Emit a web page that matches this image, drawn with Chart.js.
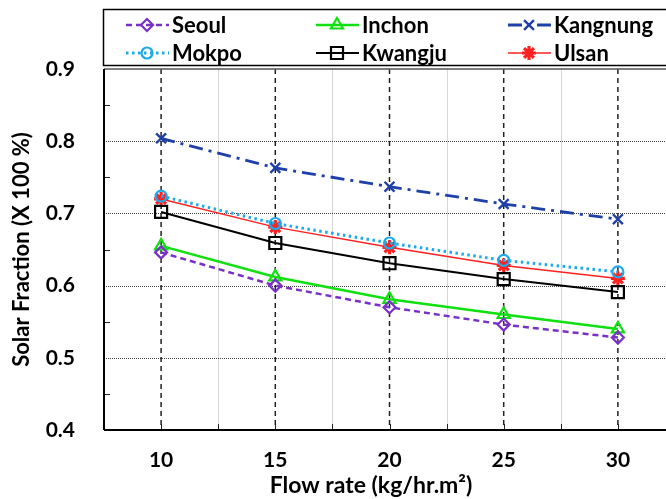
<!DOCTYPE html>
<html>
<head>
<meta charset="utf-8">
<script src="https://cdn.jsdelivr.net/npm/chart.js@4/dist/chart.umd.min.js"></script>
<style>
  html, body { margin: 0; padding: 0; background: #fff; overflow: hidden; }
  #wrap { width: 690px; height: 499px; }
</style>
</head>
<body>
<div id="wrap"><canvas id="chart" width="690" height="499"></canvas></div>
<script>
// values
const flowRates = [10, 15, 20, 25, 30];
const seoul    = [0.646, 0.600, 0.570, 0.546, 0.528];
const inchon   = [0.655, 0.612, 0.581, 0.560, 0.540];
const kangnung = [0.804, 0.763, 0.737, 0.713, 0.692];
const mokpo    = [0.724, 0.686, 0.659, 0.635, 0.619];
const kwangju  = [0.702, 0.659, 0.631, 0.609, 0.591];
const ulsan    = [0.720, 0.681, 0.653, 0.628, 0.610];

const xTicks = [10, 15, 20, 25, 30];
const yTicks = [0.4, 0.5, 0.6, 0.7, 0.8, 0.9];
const xMinor = [12.5, 17.5, 22.5, 27.5, 32.5];
const yMinor = [0.45, 0.55, 0.65, 0.75, 0.85];

const FONT = "Lato, 'Open Sans', sans-serif";

function pts(vals){
  return flowRates.map((x, i) => ({ x, y: vals[i] }));
}

function series(label, vals, color, dash, width, style, radius, pw, legendCol, legendRow){
  return {
    label,
    data: pts(vals),
    borderColor: color,
    borderWidth: width,
    borderDash: dash,
    pointStyle: style,
    pointRadius: radius,
    pointBorderColor: color,
    pointBackgroundColor: "rgba(0,0,0,0)",
    pointBorderWidth: pw,
    tension: 0,
    fill: false,
    legendCol, legendRow
  };
}

const datasets = [
  series("Seoul",    seoul,    "#7a30c8", [6, 4],        2.5, "rectRot",  6,   2.2, 0, 0),
  series("Inchon",   inchon,   "#10e010", [],            2.5, "triangle", 7,   2.2, 1, 0),
  series("Kangnung", kangnung, "#1f40a8", [14, 6, 3, 6], 2.8, "crossRot", 7,   2.4, 2, 0),
  series("Mokpo",    mokpo,    "#1eaae8", [2.5, 3.5],    3,   "circle",   5.5, 2.2, 0, 1),
  series("Kwangju",  kwangju,  "#000000", [],            2,   "rect",     8.5, 2.2, 1, 1),
  series("Ulsan",    ulsan,    "#ff2020", [],            1.5, "star",     7,   3.2, 2, 1)
];

function line(ctx, x1, y1, x2, y2){
  ctx.beginPath();
  ctx.moveTo(x1, y1);
  ctx.lineTo(x2, y2);
  ctx.stroke();
}

const gridPlugin = {
  id: "gridPlugin",
  beforeDatasetsDraw(chart){
    const { ctx, chartArea: a, scales: { x, y } } = chart;
    ctx.save();
    // light minor verticals
    ctx.strokeStyle = "#d6d6d6";
    ctx.lineWidth = 1;
    xMinor.forEach(v => { const px = Math.round(x.getPixelForValue(v)) + 0.5; line(ctx, px, a.top, px, a.bottom); });
    // dotted horizontals
    ctx.strokeStyle = "#444";
    ctx.setLineDash([1, 1]);
    yTicks.slice(1, -1).forEach(v => { const py = Math.round(y.getPixelForValue(v)) + 0.5; line(ctx, a.left, py, a.right, py); });
    // dashed verticals
    ctx.strokeStyle = "#222";
    ctx.lineWidth = 1.5;
    ctx.setLineDash([5, 4]);
    xTicks.forEach(v => { const px = x.getPixelForValue(v); line(ctx, px, a.top, px, a.bottom); });
    ctx.setLineDash([]);
    // small ticks
    ctx.strokeStyle = "#222";
    ctx.lineWidth = 1;
    yMinor.forEach(v => { const py = Math.round(y.getPixelForValue(v)) + 0.5; line(ctx, a.left, py, a.left + 6, py); });
    xMinor.concat(xTicks).forEach(v => { const px = Math.round(x.getPixelForValue(v)) + 0.5; line(ctx, px, a.bottom, px, a.bottom - 6); });
    // frame
    ctx.strokeStyle = "#555";
    ctx.lineWidth = 1.5;
    line(ctx, a.left, a.top, chart.width, a.top);
    ctx.strokeStyle = "#000";
    ctx.lineWidth = 2;
    line(ctx, a.left, a.top, a.left, a.bottom);
    line(ctx, a.left, a.bottom, chart.width, a.bottom);
    ctx.restore();
  },
  afterDraw(chart){
    const { ctx } = chart;
    ctx.save();
    // x axis title
    ctx.fillStyle = "#000";
    ctx.font = "bold 23px " + FONT;
    ctx.textAlign = "center";
    ctx.textBaseline = "middle";
    ctx.fillText("Flow rate (kg/hr.m²)", 371, 486);

    // legend box
    ctx.fillStyle = "#fff";
    ctx.fillRect(103, 9, chart.width, 57);
    ctx.strokeStyle = "#000";
    ctx.lineWidth = 1.5;
    ctx.strokeRect(103.5, 9.5, chart.width, 56);
    const colX = [126, 316, 508];
    const rowY = [25, 53];
    chart.data.datasets.forEach(ds => {
      const x0 = colX[ds.legendCol], yy = rowY[ds.legendRow];
      ctx.strokeStyle = ds.borderColor;
      ctx.lineWidth = ds.borderWidth;
      ctx.setLineDash(ds.borderDash);
      line(ctx, x0, yy, x0 + 43, yy);
      ctx.setLineDash([]);
      ctx.fillStyle = "rgba(0,0,0,0)";
      ctx.lineWidth = ds.pointBorderWidth;
      if (Chart.helpers && Chart.helpers.drawPoint){
        Chart.helpers.drawPoint(ctx, { pointStyle: ds.pointStyle, radius: ds.pointRadius, borderWidth: ds.pointBorderWidth, rotation: 0 }, x0 + 21, yy);
      }
      ctx.fillStyle = "#000";
      ctx.font = "bold 22px " + FONT;
      ctx.textAlign = "left";
      ctx.fillText(ds.label, x0 + 46, yy + 1);
    });
    ctx.restore();
  }
};

new Chart(document.getElementById("chart").getContext("2d"), {
  type: "line",
  data: { datasets },
  options: {
    responsive: false,
    animation: false,
    devicePixelRatio: 1,
    layout: { padding: { top: 69, right: 15, left: 0, bottom: 0 } },
    plugins: { legend: { display: false }, tooltip: { enabled: false } },
    scales: {
      x: {
        type: "linear",
        min: 7.5,
        max: 32.5,
        afterBuildTicks: s => { s.ticks = xTicks.map(v => ({ value: v })); },
        afterFit: s => { s.height = 69; },
        grid: { display: false },
        border: { display: false },
        ticks: { color: "#000", padding: 10, font: { family: FONT, size: 21, weight: "bold" } }
      },
      y: {
        min: 0.4,
        max: 0.9,
        afterBuildTicks: s => { s.ticks = yTicks.map(v => ({ value: v })); },
        afterFit: s => { s.width = 104; },
        grid: { display: false },
        border: { display: false },
        ticks: { color: "#000", padding: 21, callback: v => v.toFixed(1), font: { family: FONT, size: 21, weight: "bold" } },
        title: { display: true, text: "Solar Fraction (X 100 %)", color: "#000", padding: { top: 9, bottom: 0 }, font: { family: FONT, size: 22, weight: "bold" } }
      }
    }
  },
  plugins: [gridPlugin]
});
</script>
</body>
</html>
